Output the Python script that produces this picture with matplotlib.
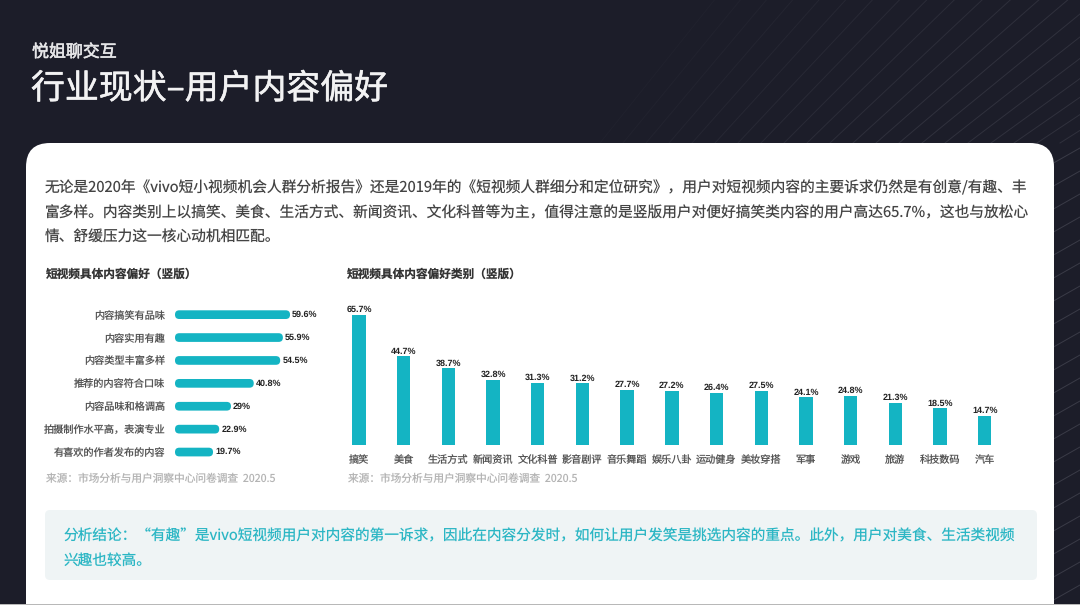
import matplotlib
matplotlib.use("Agg")
import matplotlib.pyplot as plt
import matplotlib.patheffects as pe
from matplotlib.patches import FancyBboxPatch, Rectangle

plt.rcParams['font.family'] = ['Noto Sans CJK SC', 'DejaVu Sans']
plt.rcParams['text.hinting'] = 'none'
plt.rcParams['text.hinting_factor'] = 1

# Left chart data
pref_labels = ['内容搞笑有品味', '内容实用有趣', '内容类型丰富多样', '推荐的内容符合口味',
               '内容品味和格调高', '拍摄制作水平高，表演专业', '有喜欢的作者发布的内容']
pref_values = [59.6, 55.9, 54.5, 40.8, 29, 22.9, 19.7]
pref_texts = ['59.6%', '55.9%', '54.5%', '40.8%', '29%', '22.9%', '19.7%']

# Right chart data
cat_labels = ['搞笑', '美食', '生活方式', '新闻资讯', '文化科普', '影音剧评', '音乐舞蹈', '娱乐八卦',
              '运动健身', '美妆穿搭', '军事', '游戏', '旅游', '科技数码', '汽车']
cat_values = [65.7, 44.7, 38.7, 32.8, 31.3, 31.2, 27.7, 27.2, 26.4, 27.5, 24.1, 24.8, 21.3, 18.5, 14.7]

W, H = 1080, 605
DARK = '#1c1d29'
TEAL = '#14b4c3'
VALUE_FONT = ['Liberation Sans', 'DejaVu Sans']

fig = plt.figure(figsize=(W / 100, H / 100), dpi=100, facecolor=DARK)

# Page layer in pixel coordinates
bg = fig.add_axes([0, 0, 1, 1])
bg.set_xlim(0, W)
bg.set_ylim(H, 0)
bg.axis('off')

# faint fan of lines, top right corner and right margin
for i in range(22):
    x0 = 600 + i * 23
    slope = 1.25 - 0.65 * i / 21
    strength = min(1.0, 0.2 + i / 16)
    bg.plot([x0, x0 + 600], [143, 143 - 600 * slope], color='#30313d', lw=0.7,
            alpha=strength, zorder=0)
for y0 in range(165, 640, 23):
    bg.plot([1050, 1080], [y0, y0 - 17], color='#3a3b47', lw=0.7, zorder=0)

card = FancyBboxPatch((26, 143), 1028, 520, boxstyle='round,pad=0,rounding_size=24',
                      fc='white', ec='none', zorder=1)
bg.add_patch(card)
bg.add_patch(Rectangle((0, 604), W, 1, fc='#b8b8b8', ec='none', zorder=2))

header = bg.text(32, 52, '悦姐聊交互', color='#e6e6e8', fontsize=12.2, va='center')
header.set_path_effects([pe.withStroke(linewidth=0.4, foreground='#e6e6e8')])
title = bg.text(31, 89, '行业现状–用户内容偏好', color='#f2f2f3', fontsize=24.4, va='center')
title.set_path_effects([pe.withStroke(linewidth=0.4, foreground='#f2f2f3')])

body = ['无论是2020年《vivo短小视频机会人群分析报告》还是2019年的《短视频人群细分和定位研究》，用户对短视频内容的主要诉求仍然是有创意/有趣、丰',
        '富多样。内容类别上以搞笑、美食、生活方式、新闻资讯、文化科普等为主，值得注意的是竖版用户对便好搞笑类内容的用户高达65.7%，这也与放松心',
        '情、舒缓压力这一核心动机相匹配。']
for y, line in zip([188, 213, 237], body):
    bg.text(45, y, line, color='#444444', fontsize=10.6, va='center', zorder=3)

bg.text(46, 274, '短视频具体内容偏好（竖版）', color='#333333', fontsize=8.4, fontweight='bold', va='center', zorder=3)
bg.text(347, 274, '短视频具体内容偏好类别（竖版）', color='#333333', fontsize=8.4, fontweight='bold', va='center', zorder=3)
bg.text(46, 479, '来源：市场分析与用户洞察中心问卷调查  2020.5', color='#b4b4b4', fontsize=7.7, va='center', zorder=3)
bg.text(348, 479, '来源：市场分析与用户洞察中心问卷调查  2020.5', color='#b4b4b4', fontsize=7.7, va='center', zorder=3)

# conclusion box
bg.add_patch(FancyBboxPatch((45, 510), 992, 70, boxstyle='round,pad=0,rounding_size=5',
                            fc='#eff4f5', ec='none', zorder=2))
bg.text(64, 536, '分析结论：“有趣”是vivo短视频用户对内容的第一诉求，因此在内容分发时，如何让用户发笑是挑选内容的重点。此外，用户对美食、生活类视频',
        color='#2bb6c4', fontsize=10.56, va='center', zorder=3)
bg.text(64, 560, '兴趣也较高。', color='#2bb6c4', fontsize=10.56, va='center', zorder=3)

# Left chart: 1.93 px per percent, 22.9 px per row
left_ax = fig.add_axes([175 / W, 1 - 463.5 / H, 193 / W, 160.3 / H])
left_ax.set_xlim(0, 100)
left_ax.set_ylim(6.5, -0.5)
left_ax.patch.set_alpha(0)
for i, v in enumerate(pref_values):
    left_ax.add_patch(FancyBboxPatch((0, i - 0.19), v, 0.38, boxstyle='round,pad=0,rounding_size=2.2',
                                     mutation_aspect=1.93 / 22.9, fc=TEAL, ec='none'))
    left_ax.annotate(pref_texts[i], (v, i), xytext=(1.5, 0), textcoords='offset points',
                     fontsize=6.4, fontweight='bold', color='#222222', va='center',
                     family=VALUE_FONT)
left_ax.set_yticks(range(len(pref_labels)), pref_labels, fontsize=7.3, color='#555555')
left_ax.set_xticks([])
left_ax.tick_params(axis='y', length=0, pad=7)
for s in left_ax.spines.values():
    s.set_visible(False)

# Right chart: baseline at y=445, 1.98 px per percent
right_ax = fig.add_axes([336.6 / W, 1 - 445 / H, 670.5 / W, 158.4 / H])
right_ax.set_xlim(-0.5, 14.5)
right_ax.set_ylim(0, 80)
right_ax.patch.set_alpha(0)
right_ax.bar(range(len(cat_values)), cat_values, width=0.3, color=TEAL)
for i, v in enumerate(cat_values):
    right_ax.annotate('%.1f%%' % v, (i, v), xytext=(0, 2), textcoords='offset points', ha='center',
                      fontsize=6.4, fontweight='bold', color='#222222', family=VALUE_FONT)
right_ax.set_xticks(range(len(cat_labels)), cat_labels, fontsize=7.3, color='#555555')
right_ax.set_yticks([])
right_ax.tick_params(axis='x', length=0, pad=13)
# baseline alignment keeps all the labels on one line
for lbl in right_ax.get_xticklabels():
    lbl.set_va('baseline')
for s in right_ax.spines.values():
    s.set_visible(False)

fig.savefig('out.png', dpi=100, facecolor=DARK)
